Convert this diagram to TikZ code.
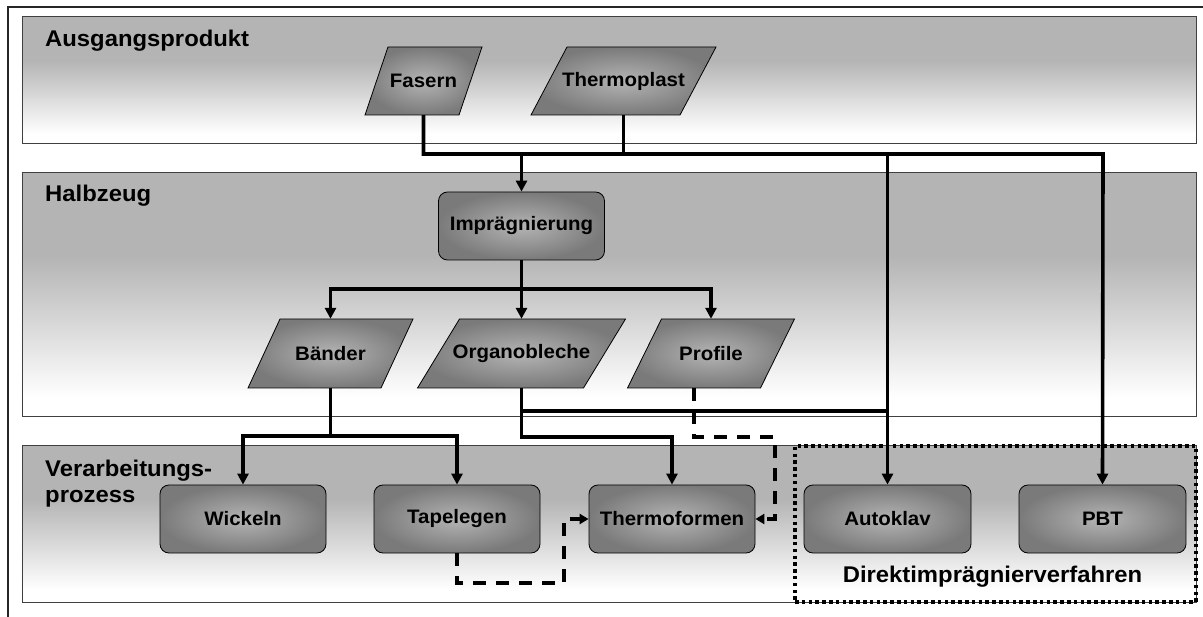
\documentclass[tikz,border=0pt]{standalone}
\usepackage{fontspec}
\setmainfont{Liberation Sans}[FakeStretch=1.05]
\usetikzlibrary{arrows.meta,calc}

\definecolor{bandgray}{HTML}{B4B4B4}
\definecolor{nodelight}{HTML}{B4B4B4}
\definecolor{nodedark}{HTML}{7A7A7A}

% band background: grey upper part fading to white towards the bottom
\pgfdeclareverticalshading{bandshade}{100bp}{color(0bp)=(white); color(29bp)=(white); color(58bp)=(bandgray); color(100bp)=(bandgray)}

% parallelogram: name, centre x, centre y, half width, slant offset, height, text
\newcommand\paranode[7]{%
  \shadedraw[parashape] (#2-#4+#5/2, #3-#6/2) -- (#2+#4+#5/2, #3-#6/2)
     -- (#2+#4-#5/2, #3+#6/2) -- (#2-#4-#5/2, #3+#6/2) -- cycle;
  \node[lbl, minimum height=#6] (#1) at (#2,#3) {#7};}

\begin{document}
\begin{tikzpicture}[x=1pt, y=-1pt,
  band/.style={shading=bandshade, draw=black!75, line width=1pt},
  title/.style={font=\bfseries\fontsize{22.7}{26}\selectfont, inner sep=0pt},
  lbl/.style={font=\bfseries\fontsize{19.5}{22}\selectfont, inner sep=0pt},
  parashape/.style={draw=black, line width=0.8pt, inner color=nodelight, outer color=nodedark},
  procbox/.style={rectangle, rounded corners=9pt, draw=black, line width=0.8pt,
    inner color=nodelight, outer color=nodedark, minimum width=166pt,
    minimum height=68pt, inner sep=0pt, font=\bfseries\fontsize{19.5}{22}\selectfont},
  conn/.style={line width=3.6pt},
  arr/.style={conn, -{Triangle[width=11pt,length=11pt]}},
  dasharr/.style={line width=3.6pt, dash pattern=on 13pt off 10pt,
    -{Triangle[width=10pt,length=9pt]}},
  dotbox/.style={draw=black, line width=3.5pt, dash pattern=on 3.5pt off 3.3pt,
    inner sep=0pt}]
\useasboundingbox (0,0) rectangle (1203,617);

% outer frame
\draw[line width=1.2pt, black!85] (1203,7) -- (8,7) -- (8,617);

% bands
\shadedraw[band] (22,17) rectangle (1196,144);
\shadedraw[band] (22,173) rectangle (1196,417);
\shadedraw[band] (22,446) rectangle (1196,602);

% band titles
\node[title, anchor=base west] (ausg) at (45,47) {Ausgangsprodukt};
\node[title, anchor=base west] (halb) at (45,202) {Halbzeug};
\node[title, anchor=base west] (verarb) at (45,477) {Verarbeitungs-};
\node[title, anchor=base west] (prozess) at (45,503) {prozess};

% raw materials
\paranode{fasern}{423.5}{81}{47}{23}{68}{Fasern}
\paranode{thermo}{623.5}{81}{74.5}{36}{68}{Thermoplast}

% semi-finished products
\node[procbox] (impr) at (521.5,226) {Imprägnierung};
\paranode{baender}{330.5}{353.5}{66.5}{32}{69}{Bänder}
\paranode{organo}{521.5}{353.5}{83}{42}{69}{Organobleche}
\paranode{profile}{711}{353.5}{66.5}{34}{69}{Profile}

% processes
\node[dotbox, minimum width=401pt, minimum height=156pt] (direkt) at (995.5,524) {};
\node[procbox] (wickeln) at (243,519) {Wickeln};
\node[procbox] (tape) at (457,519) {Tapelegen};
\node[procbox] (thform) at (672,519) {Thermoformen};
\node[procbox, minimum width=167pt] (autoklav) at (887.5,519) {Autoklav};
\node[procbox, minimum width=167pt] (pbt) at (1102.5,519) {PBT};
\node[title, anchor=base] (dlabel) at (992.5,583) {Direktimprägnierverfahren};

% connectors
\coordinate (busR) at (1103,154);
\coordinate (ij) at (521.5,289);
\coordinate (bj) at (330.5,436);
\coordinate (oj) at (521.5,411);
\coordinate (oj2) at (521.5,437);
\coordinate (tp) at (564,583);
\coordinate (pf) at (775,437);

\draw[arr] (fasern.south) |- (busR) -- (pbt.north);
\draw[conn] (thermo.south) -- (thermo.south |- busR);
\draw[arr] (impr.north |- busR) -- (impr.north);
\draw[arr] (autoklav.north |- busR) -- (autoklav.north);

\draw[conn] (impr.south) -- (ij);
\draw[arr] (ij) -| (baender.north);
\draw[arr] (ij) -| (profile.north);
\draw[arr] (ij) -- (organo.north);

\draw[conn] (baender.south) -- (bj);
\draw[arr] (bj) -| (wickeln.north);
\draw[arr] (bj) -| (tape.north);

\draw[arr] (organo.south) -- (oj2) -| (thform.north);
\draw[conn] (oj) -- (autoklav.north |- oj);

\draw[dasharr] (tape.south) |- (tp) |- (thform.west);
\draw[dasharr] ([xshift=-17pt]profile.south) |- (pf) |- (thform.east);
\end{tikzpicture}
\end{document}
